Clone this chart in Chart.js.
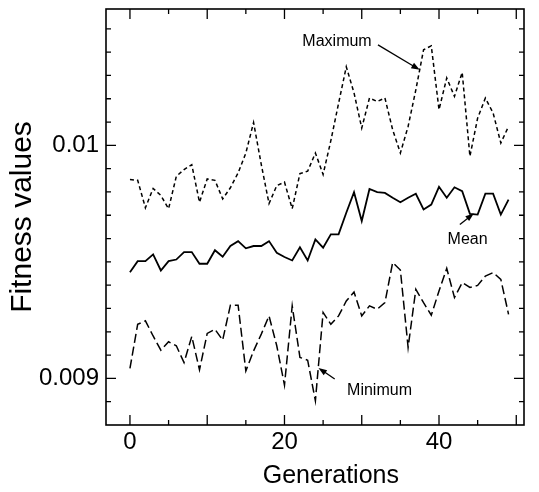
<!DOCTYPE html>
<html>
<head>
<meta charset="utf-8">
<script src="https://cdn.jsdelivr.net/npm/chart.js"></script>
<style>
  html, body { margin: 0; padding: 0; background: #fff; }
  canvas { display: block; }
</style>
</head>
<body>
<canvas id="fitness" width="539" height="492"></canvas>
<script>
const generations = [0, 1, 2, 3, 4, 5, 6, 7, 8, 9, 10, 11, 12, 13, 14, 15, 16, 17, 18, 19,
  20, 21, 22, 23, 24, 25, 26, 27, 28, 29, 30, 31, 32, 33, 34, 35, 36, 37, 38, 39,
  40, 41, 42, 43, 44, 45, 46, 47, 48, 49]

const maxValues = [0.009853, 0.00985, 0.009732, 0.009815, 0.009785, 0.009728, 0.009867, 0.009896, 0.009917, 0.009756,
  0.009856, 0.00985, 0.00977, 0.009818, 0.009882, 0.009967, 0.010098, 0.009917, 0.00975, 0.009827,
  0.009842, 0.009728, 0.009879, 0.009889, 0.009967, 0.009875, 0.01002, 0.01018, 0.010337, 0.010225,
  0.010074, 0.010203, 0.010188, 0.010203, 0.010067, 0.009967, 0.010081, 0.010238, 0.01041, 0.010427,
  0.010153, 0.010289, 0.01021, 0.010313, 0.009953, 0.010117, 0.010203, 0.010139, 0.01001, 0.010081]

const meanValues = [0.009455, 0.009503, 0.009503, 0.009532, 0.009463, 0.009503, 0.00951, 0.009542, 0.009542, 0.009492,
  0.009492, 0.00955, 0.009522, 0.009568, 0.009589, 0.009558, 0.009568, 0.009568, 0.009589, 0.009539,
  0.009521, 0.009506, 0.009563, 0.009506, 0.009596, 0.009561, 0.009618, 0.009618, 0.009711, 0.009799,
  0.009675, 0.009813, 0.009799, 0.009796, 0.009775, 0.009756, 0.009775, 0.009792, 0.009725, 0.009746,
  0.009822, 0.009775, 0.00982, 0.009803, 0.009706, 0.009703, 0.009793, 0.009793, 0.009703, 0.009767]

const minValues = [0.009043, 0.009232, 0.009247, 0.009182, 0.009121, 0.009157, 0.00914, 0.009068, 0.00918, 0.009037,
  0.009193, 0.009211, 0.009164, 0.009314, 0.009314, 0.009032, 0.009118, 0.00919, 0.009268, 0.00914,
  0.008971, 0.009311, 0.00909, 0.009078, 0.008904, 0.009283, 0.009232, 0.009268, 0.009332, 0.009371,
  0.009268, 0.009311, 0.009297, 0.009325, 0.009497, 0.009465, 0.009133, 0.009382, 0.009325, 0.009271,
  0.009375, 0.009472, 0.009347, 0.009411, 0.00939, 0.009399, 0.009439, 0.009454, 0.009425, 0.009275]

const xTicks = [0, 20, 40]
const yTicks = [0.009, 0.01]
const yTickLabels = ['0.009', '0.01']

// text labels with arrows, in data coordinates [generation, value]
const notes = [
  { text: 'Maximum', at: [26.8, 0.010444], from: [32.1, 0.010431], to: [37.5, 0.010324] },
  { text: 'Mean', at: [43.7, 0.009596], from: [42.7, 0.00966], to: [44.5, 0.009708] },
  { text: 'Minimum', at: [32.3, 0.008946], from: [26.5, 0.008997], to: [24.4, 0.009045] },
]

const FONT = '"Liberation Sans", Arial, Helvetica, sans-serif'
Chart.defaults.color = '#000'
Chart.defaults.font.family = FONT

const points = vals => generations.map((g, i) => ({ x: g, y: vals[i] }))

function arrow(ctx, x1, y1, x2, y2){
  const a = Math.atan2(y2 - y1, x2 - x1)
  ctx.beginPath()
  ctx.moveTo(x1, y1)
  ctx.lineTo(x2 - 6 * Math.cos(a), y2 - 6 * Math.sin(a))
  ctx.stroke()
  ctx.beginPath()
  ctx.moveTo(x2, y2)
  ctx.lineTo(x2 - 9 * Math.cos(a - 0.35), y2 - 9 * Math.sin(a - 0.35))
  ctx.lineTo(x2 - 9 * Math.cos(a + 0.35), y2 - 9 * Math.sin(a + 0.35))
  ctx.closePath()
  ctx.fill()
}

const framePlugin = {
  id: 'frame',
  afterDraw(chart){
    const {ctx, chartArea: a, scales: {x, y}} = chart
    ctx.save()
    ctx.strokeStyle = '#000'
    ctx.fillStyle = '#000'
    ctx.lineWidth = 1.6
    ctx.strokeRect(a.left, a.top, a.right - a.left, a.bottom - a.top)

    // inward tick marks on all four sides
    ctx.lineWidth = 1.3
    ctx.beginPath()
    for (let v = 0; v <= 50; v += 5) {
      const px = x.getPixelForValue(v)
      const len = v % 10 === 0 ? 10 : 5
      ctx.moveTo(px, a.bottom); ctx.lineTo(px, a.bottom - len)
      ctx.moveTo(px, a.top); ctx.lineTo(px, a.top + len)
    }
    for (let k = 89; k <= 105; k++) {
      const py = y.getPixelForValue(k / 10000)
      const len = k % 10 === 0 ? 10 : 5
      ctx.moveTo(a.left, py); ctx.lineTo(a.left + len, py)
      ctx.moveTo(a.right, py); ctx.lineTo(a.right - len, py)
    }
    ctx.stroke()

    // x axis title sits a little right of the plot centre in the original
    ctx.font = '25px ' + FONT
    ctx.textAlign = 'center'
    ctx.textBaseline = 'middle'
    ctx.fillText('Generations', x.getPixelForValue(26), 476)

    ctx.font = '16px ' + FONT
    ctx.lineWidth = 1.3
    notes.forEach(n => {
      ctx.fillText(n.text, x.getPixelForValue(n.at[0]), y.getPixelForValue(n.at[1]))
      arrow(ctx,
        x.getPixelForValue(n.from[0]), y.getPixelForValue(n.from[1]),
        x.getPixelForValue(n.to[0]), y.getPixelForValue(n.to[1]))
    })
    ctx.restore()
  }
}

new Chart(
  document.getElementById('fitness'),
  {
    type: 'line',
    data: {
      datasets: [
        {
          label: 'Maximum',
          data: points(maxValues),
          borderColor: '#000',
          borderWidth: 1.5,
          borderDash: [4, 3],
        },
        {
          label: 'Mean',
          data: points(meanValues),
          borderColor: '#000',
          borderWidth: 1.8,
        },
        {
          label: 'Minimum',
          data: points(minValues),
          borderColor: '#000',
          borderWidth: 1.5,
          borderDash: [9, 4],
        }
      ]
    },
    options: {
      responsive: false,
      animation: false,
      layout: { padding: { top: 9, right: 15, left: 0, bottom: 0 } },
      elements: { point: { radius: 0 }, line: { tension: 0 } },
      plugins: { legend: { display: false }, tooltip: { enabled: false } },
      scales: {
        x: {
          type: 'linear',
          min: -3.1,
          max: 51,
          grid: { display: false, drawTicks: false },
          border: { display: false },
          afterBuildTicks: s => { s.ticks = xTicks.map(v => ({ value: v })) },
          afterFit: s => { s.height = 67; s.paddingLeft = 0; s.paddingRight = 0 },
          ticks: { font: { size: 24 }, padding: 3, maxRotation: 0 }
        },
        y: {
          type: 'linear',
          min: 0.0088,
          max: 0.010585,
          grid: { display: false, drawTicks: false },
          border: { display: false },
          afterBuildTicks: s => { s.ticks = yTicks.map(v => ({ value: v })) },
          afterFit: s => { s.width = 106; s.paddingTop = 0; s.paddingBottom = 0 },
          ticks: {
            font: { size: 24 },
            padding: 7,
            callback: (v) => yTickLabels[yTicks.indexOf(v)]
          },
          title: {
            display: true,
            text: 'Fitness values',
            font: { size: 30 },
            padding: { top: 5, bottom: 0 }
          }
        }
      }
    },
    plugins: [framePlugin]
  }
);
</script>
</body>
</html>
